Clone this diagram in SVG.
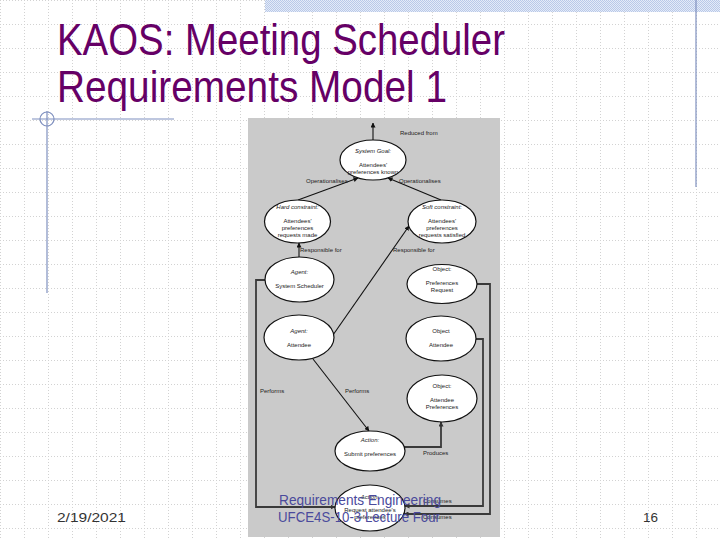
<svg xmlns="http://www.w3.org/2000/svg" width="720" height="540" viewBox="0 0 720 540">
<defs>
<pattern id="grid" x="0" y="0" width="24" height="24" patternUnits="userSpaceOnUse">
<path d="M0 0.5H24M0.5 0V24" stroke="#d2d2d2" stroke-width="1" stroke-dasharray="1 2" fill="none"/>
</pattern>
<pattern id="check" x="0" y="0" width="2" height="2" patternUnits="userSpaceOnUse">
<rect width="2" height="2" fill="#e4ebf8"/>
<rect width="1" height="1" fill="#b9c9e8"/>
<rect x="1" y="1" width="1" height="1" fill="#b9c9e8"/>
</pattern>
<marker id="ah" viewBox="0 0 10 10" refX="9" refY="5" markerWidth="5" markerHeight="5" orient="auto" markerUnits="userSpaceOnUse">
<path d="M0 0L10 5L0 10z" fill="#111"/>
</marker>
<marker id="ah2" viewBox="0 0 10 10" refX="9" refY="5" markerWidth="5" markerHeight="5" orient="auto" markerUnits="userSpaceOnUse">
<path d="M0 0L10 5L0 10z" fill="#333"/>
</marker>
</defs>
<style>
.t{font-family:"Liberation Sans",Arial,sans-serif;font-size:6px;fill:#222;text-anchor:middle}
.i{font-style:italic}
.l{font-family:"Liberation Sans",Arial,sans-serif;font-size:6px;fill:#222}
.e{fill:#fff;stroke:#111;stroke-width:1.2}
.c{fill:none;stroke:#111;stroke-width:1.1}
.o{fill:none;stroke:#3a3a3a;stroke-width:1.8}
.ttl{font-family:"Liberation Sans Narrow","Liberation Sans",sans-serif;font-size:45px;fill:#660066}
.ft{font-family:"Liberation Sans",sans-serif;font-size:15px;fill:#4a4a9c}
.ft2{font-family:"Liberation Sans",sans-serif;font-size:13px;fill:#333}
.deco{stroke:#7f90bf;stroke-width:1.2;fill:none}
</style>
<rect width="720" height="540" fill="#fff"/>
<rect width="720" height="540" fill="url(#grid)"/>
<rect x="265" y="0" width="455" height="12" fill="url(#check)"/>
<line class="deco" x1="696" y1="0" x2="696" y2="187"/>
<line class="deco" x1="32" y1="119" x2="174" y2="119"/>
<line class="deco" x1="47" y1="111" x2="47" y2="293"/>
<circle class="deco" cx="47" cy="119" r="7"/>
<text class="ttl" x="57" y="55" textLength="448" lengthAdjust="spacingAndGlyphs">KAOS: Meeting Scheduler</text>
<text class="ttl" x="57" y="102" textLength="390" lengthAdjust="spacingAndGlyphs">Requirements Model 1</text>

<rect x="248" y="118" width="252" height="419" fill="#cacaca"/>

<g id="connectors">
<line class="c" x1="373" y1="140" x2="373" y2="123" marker-end="url(#ah)"/>
<line class="c" x1="298" y1="200" x2="358" y2="178" marker-end="url(#ah)"/>
<line class="c" x1="441" y1="200" x2="388" y2="178" marker-end="url(#ah)"/>
<line class="c" x1="299" y1="257" x2="299" y2="243" marker-end="url(#ah)"/>
<line class="c" x1="333" y1="335" x2="409" y2="226" marker-end="url(#ah)"/>
<line class="c" x1="313" y1="359" x2="369" y2="431" marker-end="url(#ah)"/>
<polyline class="o" points="265,280 256,280 256,507 335,507" marker-end="url(#ah2)"/>
<polyline class="o" points="404,447 441,447 441,422" marker-end="url(#ah2)"/>
<polyline class="o" points="476,339 483,339 483,506 405,506" marker-end="url(#ah2)"/>
<polyline class="o" points="477,284 490,284 490,514 404,514" marker-end="url(#ah2)"/>
<text class="l" x="400" y="135">Reduced from</text>
<text class="l" x="306" y="183">Operationalises</text>
<text class="l" x="399" y="183">Operationalises</text>
<text class="l" x="300" y="252">Responsible for</text>
<text class="l" x="393" y="252">Responsible for</text>
<text class="l" x="260" y="393">Performs</text>
<text class="l" x="345" y="393">Performs</text>
<text class="l" x="423" y="455">Produces</text>
<text class="l" x="423" y="503">Consumes</text>
<text class="l" x="423" y="519">Consumes</text>
</g>

<g id="goal">
<ellipse class="e" cx="373" cy="160" rx="33" ry="20"/>
<text class="t i" x="373" y="153">System Goal:</text>
<text class="t" x="373" y="167">Attendees'</text>
<text class="t" x="373" y="174">preferences known</text>
</g>
<g id="hard">
<ellipse class="e" cx="297.5" cy="221.5" rx="33" ry="21.5"/>
<text class="t i" x="297.5" y="209">Hard constraint:</text>
<text class="t" x="297.5" y="223">Attendees'</text>
<text class="t" x="297.5" y="230">preferences</text>
<text class="t" x="297.5" y="237">requests made</text>
</g>
<g id="soft">
<ellipse class="e" cx="442" cy="221.5" rx="34" ry="21.5"/>
<text class="t i" x="442" y="209">Soft constraint:</text>
<text class="t" x="442" y="223">Attendees'</text>
<text class="t" x="442" y="230">preferences</text>
<text class="t" x="442" y="237">requests satisfied</text>
</g>
<g id="agent-scheduler">
<ellipse class="e" cx="299.5" cy="279.5" rx="34.5" ry="22.5"/>
<text class="t i" x="299.5" y="274">Agent:</text>
<text class="t" x="299.5" y="288">System Scheduler</text>
</g>
<g id="agent-attendee">
<ellipse class="e" cx="299" cy="337.5" rx="35" ry="22.5"/>
<text class="t i" x="299" y="333">Agent:</text>
<text class="t" x="299" y="347">Attendee</text>
</g>
<g id="obj-request">
<ellipse class="e" cx="442" cy="284" rx="35" ry="19.5"/>
<text class="t" x="442" y="271">Object:</text>
<text class="t" x="442" y="285">Preferences</text>
<text class="t" x="442" y="292">Request</text>
</g>
<g id="obj-attendee">
<ellipse class="e" cx="441" cy="338.5" rx="35" ry="22.5"/>
<text class="t" x="441" y="333">Object</text>
<text class="t" x="441" y="347">Attendee</text>
</g>
<g id="obj-prefs">
<ellipse class="e" cx="442" cy="398.5" rx="35" ry="23.5"/>
<text class="t" x="442" y="388">Object:</text>
<text class="t" x="442" y="402">Attendee</text>
<text class="t" x="442" y="409">Preferences</text>
</g>
<g id="action-submit">
<ellipse class="e" cx="370" cy="451" rx="35" ry="20"/>
<text class="t i" x="370" y="442">Action:</text>
<text class="t" x="370" y="456">Submit preferences</text>
</g>
<g id="action-request">
<ellipse class="e" cx="370" cy="508" rx="35" ry="23"/>
<text class="t i" x="370" y="499">Action:</text>
<text class="t" x="370" y="512">Request attendee's</text>
<text class="t" x="370" y="519">preferences</text>
</g>

<text class="ft" x="279" y="505" textLength="162" lengthAdjust="spacingAndGlyphs">Requirements Engineering</text>
<text class="ft" x="278" y="522" textLength="162" lengthAdjust="spacingAndGlyphs">UFCE4S-10-3 Lecture Four</text>
<text class="ft2" x="57" y="522" textLength="69" lengthAdjust="spacingAndGlyphs">2/19/2021</text>
<text class="ft2" x="643" y="522" textLength="15" lengthAdjust="spacingAndGlyphs">16</text>
</svg>
